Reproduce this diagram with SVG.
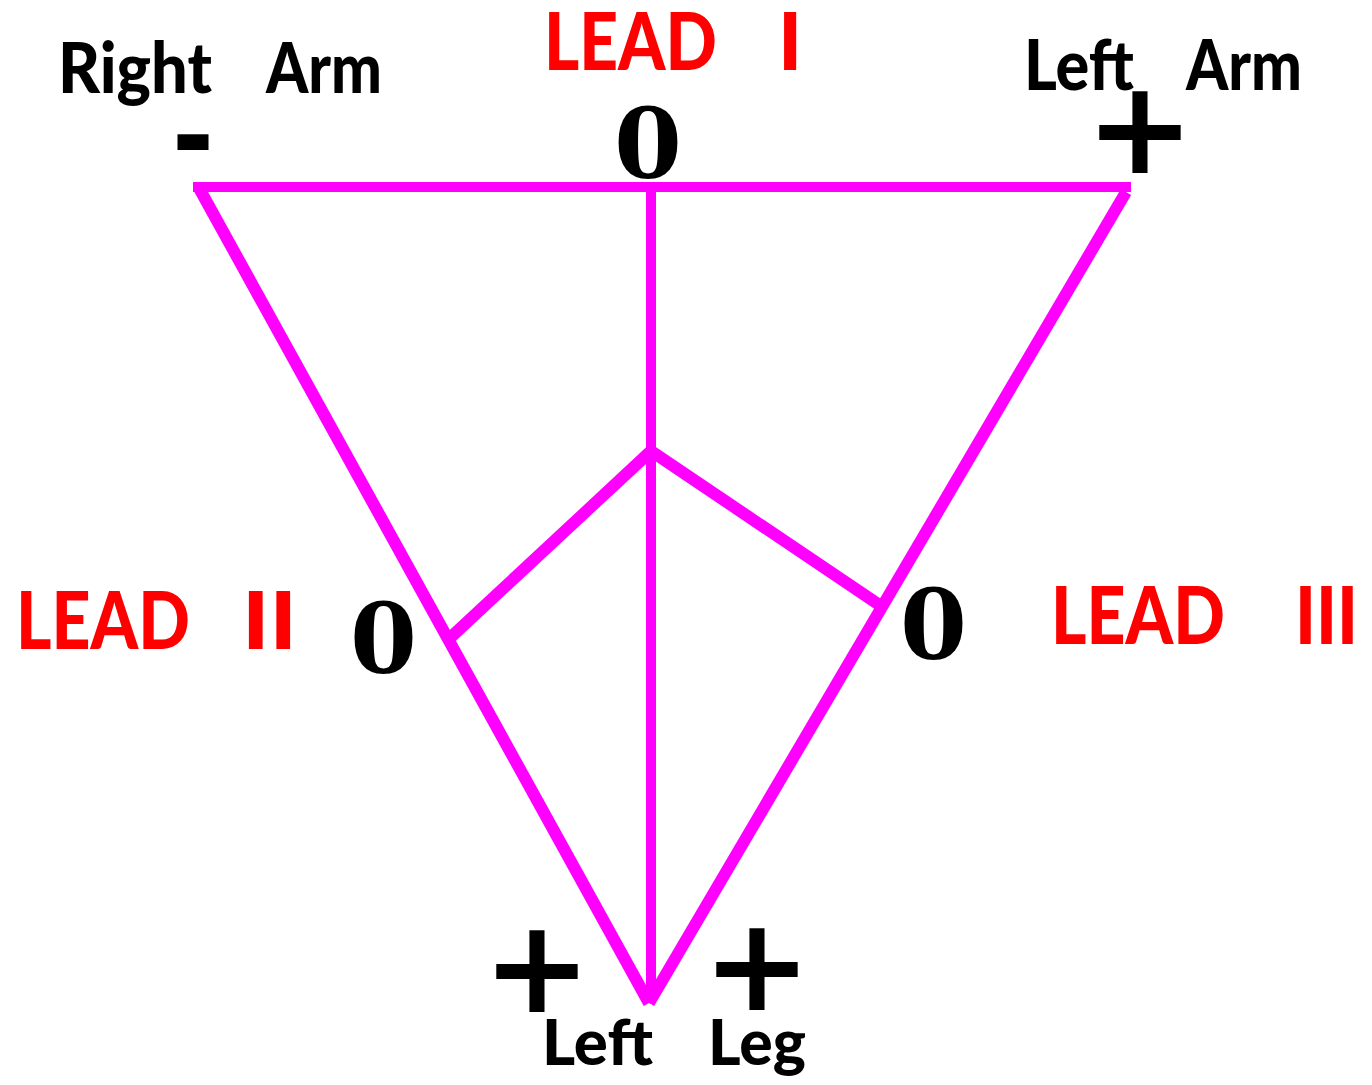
<svg xmlns="http://www.w3.org/2000/svg" width="1372" height="1085" viewBox="0 0 1372 1085">
<style>
.lbl{font-family:Lato,"Open Sans","Liberation Sans",sans-serif;font-weight:900;fill:#000}
.lead{font-family:Lato,"Open Sans","Liberation Sans",sans-serif;font-weight:900;fill:#ff0000}
.zero{font-family:"DejaVu Serif","Liberation Serif",serif;font-weight:bold;fill:#000}
.sign{font-family:"DejaVu Sans","Liberation Sans",sans-serif;font-weight:bold;fill:#000}
.edge{stroke:#ff00ff;fill:none;stroke-linecap:butt;stroke-linejoin:miter}
</style>
<rect width="1372" height="1085" fill="#fff"/>
<g id="connectors">
<line class="edge" x1="651" y1="192" x2="651" y2="1000" stroke-width="10"/>
<line class="edge" x1="651" y1="451" x2="450" y2="638" stroke-width="12"/>
<line class="edge" x1="651" y1="451" x2="878" y2="604" stroke-width="12"/>
<line class="edge" x1="199" y1="188" x2="649" y2="1003" stroke-width="12"/>
<line class="edge" x1="1126" y1="192" x2="649" y2="1003" stroke-width="12"/>
<line class="edge" x1="193" y1="187" x2="1131" y2="187" stroke-width="10"/>
</g>
<g id="right-arm">
<text class="lbl" x="58" y="93" font-size="70" textLength="154" lengthAdjust="spacingAndGlyphs">Right</text>
<text class="lbl" x="266" y="93" font-size="70" textLength="116" lengthAdjust="spacingAndGlyphs">Arm</text>
<text class="sign" x="172" y="174" font-size="110" textLength="42" lengthAdjust="spacingAndGlyphs">-</text>
</g>
<g id="lead-1">
<text class="lead" x="544" y="70" font-size="80" textLength="173" lengthAdjust="spacingAndGlyphs">LEAD</text>
<text class="lead" x="778" y="70" font-size="80">I</text>
<text class="zero" x="614" y="178" font-size="98" textLength="68" lengthAdjust="spacingAndGlyphs">0</text>
</g>
<g id="left-arm">
<text class="lbl" x="1024" y="90" font-size="70" textLength="110" lengthAdjust="spacingAndGlyphs">Left</text>
<text class="lbl" x="1186" y="90" font-size="70" textLength="116" lengthAdjust="spacingAndGlyphs">Arm</text>
<text class="sign" x="1140" y="173" font-size="130" text-anchor="middle">+</text>
</g>
<g id="lead-2">
<text class="lead" x="16" y="649" font-size="80" textLength="174" lengthAdjust="spacingAndGlyphs">LEAD</text>
<text class="lead" x="242" y="649" font-size="80" textLength="55" lengthAdjust="spacingAndGlyphs">II</text>
<text class="zero" x="350" y="673" font-size="98" textLength="67" lengthAdjust="spacingAndGlyphs">0</text>
</g>
<g id="lead-3">
<text class="lead" x="1051" y="644" font-size="80" textLength="174" lengthAdjust="spacingAndGlyphs">LEAD</text>
<text class="lead" x="1295" y="644" font-size="80" textLength="63" lengthAdjust="spacingAndGlyphs">III</text>
<text class="zero" x="900" y="659" font-size="98" textLength="67" lengthAdjust="spacingAndGlyphs">0</text>
</g>
<g id="left-leg">
<text class="sign" x="537" y="1012" font-size="130" text-anchor="middle">+</text>
<text class="sign" x="757" y="1010" font-size="130" text-anchor="middle">+</text>
<text class="lbl" x="542" y="1065" font-size="62" textLength="111" lengthAdjust="spacingAndGlyphs">Left</text>
<text class="lbl" x="708" y="1065" font-size="62" textLength="98" lengthAdjust="spacingAndGlyphs">Leg</text>
</g>
</svg>
